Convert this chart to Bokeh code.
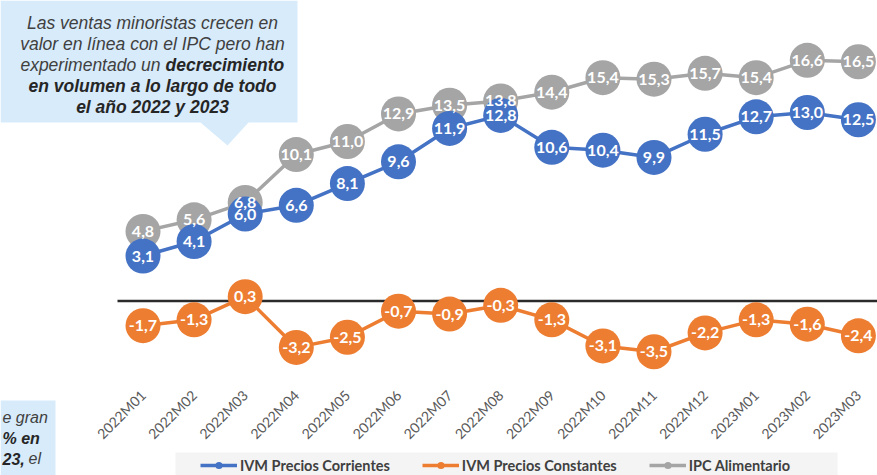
import numpy as np
from bokeh.plotting import figure
from bokeh.models import (ColumnDataSource, Range1d, FixedTicker, Legend,
                          LegendItem, PolyAnnotation, Label)
from bokeh.core.properties import value
from bokeh.embed import file_html
from bokeh.resources import INLINE

# ---------------- data ----------------
periods = ["2022M01", "2022M02", "2022M03", "2022M04", "2022M05", "2022M06",
           "2022M07", "2022M08", "2022M09", "2022M10", "2022M11", "2022M12",
           "2023M01", "2023M02", "2023M03"]
ivm_corrientes = [3.1, 4.1, 6.0, 6.6, 8.1, 9.6, 11.9, 12.8, 10.6, 10.4, 9.9, 11.5, 12.7, 13.0, 12.5]
ivm_constantes = [-1.7, -1.3, 0.3, -3.2, -2.5, -0.7, -0.9, -0.3, -1.3, -3.1, -3.5, -2.2, -1.3, -1.6, -2.4]
ipc_alimentario = [4.8, 5.6, 6.8, 10.1, 11.0, 12.9, 13.5, 13.8, 14.4, 15.4, 15.3, 15.7, 15.4, 16.6, 16.5]
series_names = ["IVM Precios Corrientes", "IVM Precios Constantes", "IPC Alimentario"]
series_colors = ["#4472C4", "#ED7D31", "#A5A5A5"]

# ---------------- layout (pixel geometry of the page) ----------------
W, H = 877, 475
PLOT_LEFT = 117          # left end of the plotting area / zero line
AXIS_Y = 380             # where the category labels hang from
CAT0, CAT_STEP = 142.5, 51.1
ZERO_Y, PX_PER_UNIT = 300.5, 14.5

x_start = (0 - CAT0) / CAT_STEP
x_end = (W - CAT0) / CAT_STEP
y_top = ZERO_Y / PX_PER_UNIT
y_bot = (ZERO_Y - H) / PX_PER_UNIT


def fx(X):
    return X


def fy(Y):
    return H - Y


p = figure(width=W, height=H, output_backend="svg", toolbar_location=None,
           x_range=Range1d(x_start, x_end), y_range=Range1d(y_bot, y_top),
           min_border_left=0, min_border_right=0, min_border_top=0, min_border_bottom=0,
           background_fill_color="white", border_fill_color="white")
p.outline_line_color = None
p.xgrid.visible = False
p.ygrid.visible = False
p.yaxis.visible = False

xa = p.xaxis[0]
xa.fixed_location = (ZERO_Y - AXIS_Y) / PX_PER_UNIT
xa.ticker = FixedTicker(ticks=list(range(len(periods))))
xa.major_label_overrides = {i: lab for i, lab in enumerate(periods)}
xa.major_label_orientation = np.pi / 4
xa.axis_line_color = None
xa.major_tick_line_color = None
xa.minor_tick_line_color = None
xa.major_label_text_font = "Lato"
xa.major_label_text_font_size = "14px"
xa.major_label_text_color = "#595959"
xa.major_label_standoff = 6

# ---------------- callouts and legend background ----------------
callout_fill = "#D7EBFB"


def poly(points, color):
    p.add_layout(PolyAnnotation(xs=[fx(a) for a, b in points], ys=[fy(b) for a, b in points],
                                xs_units="screen", ys_units="screen",
                                fill_color=color, fill_alpha=1, line_color=None,
                                level="underlay"))


poly([(0, 0), (297, 0), (297, 122), (248, 122), (227, 145), (200, 122), (0, 122)], callout_fill)
poly([(0, 400), (55, 400), (55, 475), (0, 475)], callout_fill)
poly([(175, 452), (837, 452), (837, 475), (175, 475)], "#F4F4F4")

FONT = "Liberation Sans"


def txt(text, X, Y, align="center", bold=False, size="17.5px"):
    p.add_layout(Label(x=fx(X), y=fy(Y), x_units="screen", y_units="screen", text=text,
                       text_font=FONT, text_font_size=size,
                       text_font_style="bold italic" if bold else "italic",
                       text_color="#262626" if bold else "#404040",
                       text_align=align, text_baseline="middle"))


txt("Las ventas minoristas crecen en", 152, 22)
txt("valor en línea con el IPC pero han", 152, 43.5)
txt("experimentado un", 160, 64.5, align="right")
txt("decrecimiento", 165, 64.5, align="left", bold=True)
txt("en volumen a lo largo de todo", 152, 85.5, bold=True)
txt("el año 2022 y 2023", 152, 106.5, bold=True)

txt("e gran", 2, 417, align="left", size="16px")
txt("% en", 2, 437.5, align="left", bold=True, size="16px")
txt("23,", 2, 458, align="left", bold=True, size="16px")
txt("el", 28, 458, align="left", size="16px")

# ---------------- zero line ----------------
x_zero_start = (PLOT_LEFT - CAT0) / CAT_STEP
p.segment(x0=[x_zero_start], y0=[0], x1=[x_end], y1=[0], line_color="#2b2b2b", line_width=2.4)

# ---------------- series ----------------
xs = list(range(len(periods)))
values = [ivm_corrientes, ivm_constantes, ipc_alimentario]
renderers = {}
for idx in [2, 1, 0]:
    vals = values[idx]
    src = ColumnDataSource(dict(x=xs, y=vals,
                                lab=[f"{v:.1f}".replace(".", ",") for v in vals]))
    lr = p.line("x", "y", source=src, line_color=series_colors[idx], line_width=3.5)
    sr = p.scatter("x", "y", source=src, size=35, fill_color=series_colors[idx],
                   line_color=None, marker="circle")
    renderers[idx] = (lr, sr, src)

for idx in [2, 1, 0]:
    src = renderers[idx][2]
    p.text("x", "y", text="lab", source=src, text_color="white",
           text_font=value("Lato"), text_font_style="bold", text_font_size="16px",
           text_align="center", text_baseline="middle")

legend = Legend(items=[LegendItem(label=series_names[i],
                                  renderers=[renderers[i][0], renderers[i][1]])
                       for i in [0, 1, 2]],
                orientation="horizontal", location=(200, 1),
                background_fill_alpha=0, border_line_color=None,
                padding=0, margin=0, spacing=32, glyph_width=37, glyph_height=18,
                label_height=18, label_standoff=3,
                label_text_font="Lato", label_text_font_style="bold",
                label_text_font_size="14.5px", label_text_color="#404040")
p.add_layout(legend)

open("out.html", "w").write(file_html(p, INLINE))
